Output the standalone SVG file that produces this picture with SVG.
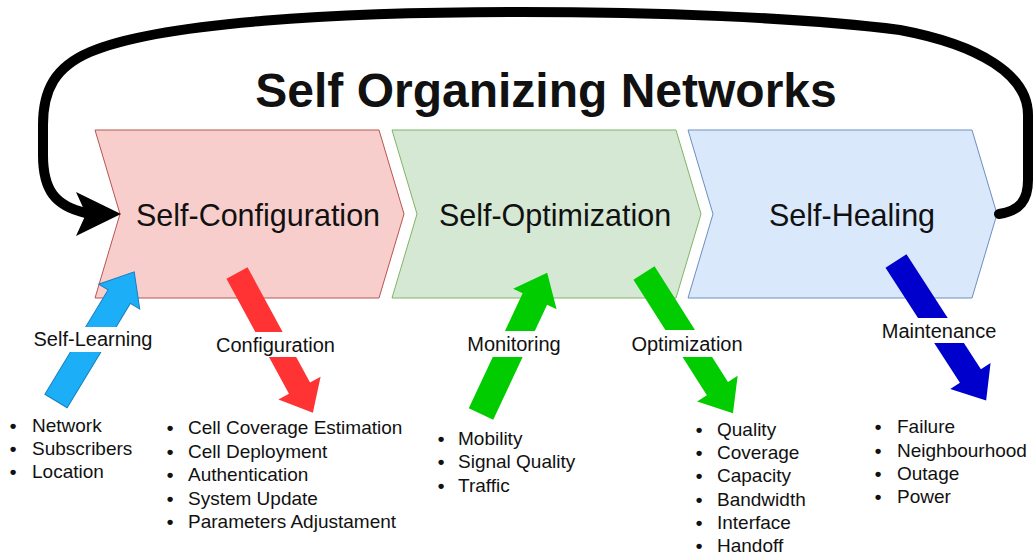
<svg xmlns="http://www.w3.org/2000/svg" width="1034" height="556" viewBox="0 0 1034 556">
<style>
  text { font-family: "Liberation Sans", Arial, sans-serif; fill: #111; }
  .title { font-size: 48px; font-weight: bold; text-anchor: middle; }
  .chev { font-size: 30.5px; text-anchor: middle; }
  .lbl { font-size: 20px; text-anchor: middle; }
  .li { font-size: 19px; }
  .bul { font-weight: bold; }
  .lblbg { fill: #ffffff; }
  .loop { fill: none; stroke: #000; stroke-width: 10; stroke-linecap: round; }
</style>
<rect width="1034" height="556" fill="#ffffff"/>

<text class="title" x="546" y="107">Self Organizing Networks</text>

<g id="self-configuration">
  <polygon points="95,130 379,130 404,214 379,298 95,298 120,214" fill="#f8cecc" stroke="#b85450" stroke-width="1"/>
  <text class="chev" x="258" y="226">Self-Configuration</text>
</g>
<g id="self-optimization">
  <polygon points="392,130 676,130 701,214 676,298 392,298 417,214" fill="#d5e8d4" stroke="#82b366" stroke-width="1"/>
  <text class="chev" x="555" y="226">Self-Optimization</text>
</g>
<g id="self-healing">
  <polygon points="688,130 972,130 997,214 972,298 688,298 713,214" fill="#dae8fc" stroke="#6c8ebf" stroke-width="1"/>
  <text class="chev" x="852" y="226">Self-Healing</text>
</g>

<g id="connectors">
  <path class="loop" d="M 999 214 C 1020 211, 1028 200, 1028 180 L 1028 115 C 1028 75, 980 45, 900 30 C 800 17, 650 12, 520 12 C 340 12, 160 22, 90 52 C 55 67, 43 90, 43 125 L 43 155 C 43 190, 55 206, 86 213"/>
  <polygon points="121,214 76,192 86,214 76,236" fill="#000"/>
</g>

<g id="self-learning">
  <polygon transform="translate(56,401) rotate(-58.8)" points="0,-13 122,-13 122,-24 151,0 122,24 122,13 0,13" fill="#1caef7" stroke="#1a7fc0" stroke-width="1"/>
  <rect class="lblbg" x="32" y="327" width="122" height="25"/>
  <text class="lbl" x="93" y="346">Self-Learning</text>
  <text class="li"><tspan class="bul" x="9.7" y="432">•</tspan><tspan x="32" y="432">Network</tspan><tspan class="bul" x="9.7" y="455">•</tspan><tspan x="32" y="455">Subscribers</tspan><tspan class="bul" x="9.7" y="478">•</tspan><tspan x="32" y="478">Location</tspan></text>
</g>

<g id="configuration">
  <polygon transform="translate(237,273) rotate(61.5)" points="0,-12 131,-12 131,-24 159,0 131,24 131,12 0,12" fill="#ff3333"/>
  <rect class="lblbg" x="215" y="332" width="121" height="25"/>
  <text class="lbl" x="275.5" y="352">Configuration</text>
  <text class="li"><tspan class="bul" x="166.7" y="434">•</tspan><tspan x="188" y="434">Cell Coverage Estimation</tspan><tspan class="bul" x="166.7" y="457.5">•</tspan><tspan x="188" y="457.5">Cell Deployment</tspan><tspan class="bul" x="166.7" y="481">•</tspan><tspan x="188" y="481">Authentication</tspan><tspan class="bul" x="166.7" y="504.5">•</tspan><tspan x="188" y="504.5">System Update</tspan><tspan class="bul" x="166.7" y="528">•</tspan><tspan x="188" y="528">Parameters Adjustament</tspan></text>
</g>

<g id="monitoring">
  <polygon transform="translate(481,414) rotate(-64.9)" points="0,-13.5 127,-13.5 127,-24 156,0 127,24 127,13.5 0,13.5" fill="#00cc00"/>
  <rect class="lblbg" x="466" y="331" width="96" height="26"/>
  <text class="lbl" x="514" y="351">Monitoring</text>
  <text class="li"><tspan class="bul" x="437.7" y="445">•</tspan><tspan x="458" y="445">Mobility</tspan><tspan class="bul" x="437.7" y="468.3">•</tspan><tspan x="458" y="468.3">Signal Quality</tspan><tspan class="bul" x="437.7" y="491.6">•</tspan><tspan x="458" y="491.6">Traffic</tspan></text>
</g>

<g id="optimization">
  <polygon transform="translate(644,273) rotate(57.6)" points="0,-12.5 137,-12.5 137,-24 166,0 137,24 137,12.5 0,12.5" fill="#00cc00"/>
  <rect class="lblbg" x="631" y="330" width="112" height="27"/>
  <text class="lbl" x="687" y="351">Optimization</text>
  <text class="li"><tspan class="bul" x="695.7" y="435.7">•</tspan><tspan x="717" y="435.7">Quality</tspan><tspan class="bul" x="695.7" y="459">•</tspan><tspan x="717" y="459">Coverage</tspan><tspan class="bul" x="695.7" y="482.3">•</tspan><tspan x="717" y="482.3">Capacity</tspan><tspan class="bul" x="695.7" y="505.6">•</tspan><tspan x="717" y="505.6">Bandwidth</tspan><tspan class="bul" x="695.7" y="529">•</tspan><tspan x="717" y="529">Interface</tspan><tspan class="bul" x="695.7" y="552.3">•</tspan><tspan x="717" y="552.3">Handoff</tspan></text>
</g>

<g id="maintenance">
  <polygon transform="translate(896,261) rotate(57.1)" points="0,-12.5 137,-12.5 137,-24 166,0 137,24 137,12.5 0,12.5" fill="#0000cc"/>
  <rect class="lblbg" x="881" y="318" width="116" height="25"/>
  <text class="lbl" x="939" y="337.5">Maintenance</text>
  <text class="li"><tspan class="bul" x="874.7" y="433.3">•</tspan><tspan x="897" y="433.3">Failure</tspan><tspan class="bul" x="874.7" y="456.6">•</tspan><tspan x="897" y="456.6">Neighbourhood</tspan><tspan class="bul" x="874.7" y="480">•</tspan><tspan x="897" y="480">Outage</tspan><tspan class="bul" x="874.7" y="503.3">•</tspan><tspan x="897" y="503.3">Power</tspan></text>
</g>
</svg>
